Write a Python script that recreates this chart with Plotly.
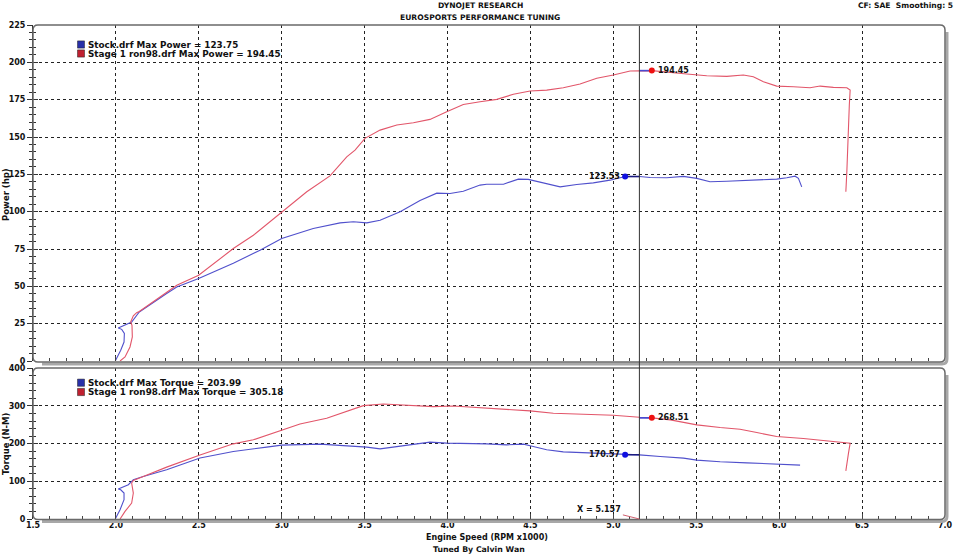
import plotly.graph_objects as go

# ---------------- data ----------------
stock_power_rpm = [1.996, 2.029, 2.049, 2.051, 2.035, 2.014, 2.095, 2.141, 2.306, 2.367, 2.499,
                   2.708, 2.869, 3.0, 3.19, 3.352, 3.432, 3.513, 3.593, 3.714, 3.834, 3.935,
                   4.015, 4.095, 4.196, 4.236, 4.337, 4.427, 4.487, 4.578, 4.679, 4.779, 4.879,
                   4.980, 5.071, 5.157, 5.222, 5.322, 5.422, 5.503, 5.583, 5.684, 5.784, 5.885,
                   5.985, 6.046, 6.096, 6.116, 6.136]
stock_power_hp = [0, 7.2, 12.7, 18.4, 21.2, 22.1, 26.1, 32.8, 45.2, 49.6, 55.2,
                  65.5, 74.2, 82.0, 88.7, 92.5, 93.2, 92.5, 94.3, 99.9, 107.5, 112.4,
                  112.2, 113.7, 117.8, 118.4, 118.4, 121.8, 121.6, 119.3, 116.6, 118.2, 119.3,
                  121.1, 123.53, 123.5, 122.9, 122.7, 123.6, 122.3, 120.0, 120.4, 120.9, 121.6,
                  121.8, 122.7, 123.75, 122.3, 116.6]

stage1_power_rpm = [2.025, 2.055, 2.085, 2.099, 2.097, 2.089, 2.105, 2.125, 2.141, 2.306, 2.367,
                    2.499, 2.708, 2.829, 3.0, 3.151, 3.291, 3.392, 3.442, 3.502, 3.593, 3.694,
                    3.794, 3.894, 3.995, 4.095, 4.196, 4.297, 4.397, 4.498, 4.598, 4.698, 4.799,
                    4.900, 5.0, 5.101, 5.232, 5.322, 5.443, 5.563, 5.684, 5.784, 5.844, 5.905,
                    5.985, 6.086, 6.186, 6.247, 6.327, 6.408, 6.428, 6.423, 6.417, 6.408, 6.402]
stage1_power_hp = [0, 2.7, 9.4, 16.1, 23.9, 26.1, 30.2, 32.4, 33.1, 45.8, 50.7,
                   57.4, 75.3, 84.2, 99.9, 113.3, 124.0, 136.7, 141.2, 149.1, 154.6, 158.0,
                   159.5, 161.8, 166.9, 171.8, 173.6, 175.2, 178.6, 180.8, 181.4, 183.0, 185.5,
                   189.3, 191.5, 194.2, 194.45, 193.3, 192.2, 191.0, 190.6, 191.5, 190.3, 187.0,
                   184.1, 183.6, 183.0, 184.1, 183.2, 183.0, 181.4, 171.4, 149.1, 126.7, 113.3]

stock_torque_rpm = [1.996, 2.025, 2.049, 2.049, 2.029, 2.014, 2.075, 2.105, 2.165, 2.306, 2.507,
                    2.708, 2.909, 3.0, 3.231, 3.311, 3.412, 3.513, 3.593, 3.673, 3.794, 3.894,
                    3.995, 4.115, 4.236, 4.357, 4.458, 4.498, 4.558, 4.598, 4.698, 4.840, 5.0,
                    5.071, 5.157, 5.282, 5.423, 5.503, 5.644, 5.805, 5.996, 6.126]
stock_torque_nm = [0, 24.6, 51.1, 68.9, 77.6, 79.5, 90.9, 104.1, 112.8, 130.6, 162.0,
                   179.1, 190.7, 196.0, 198.7, 196.8, 194.2, 190.7, 186.2, 190.7, 199.5, 203.99,
                   201.3, 201.3, 199.5, 196.8, 198.7, 194.2, 188.1, 183.6, 178.3, 175.6, 173.0,
                   170.57, 170.3, 165.8, 161.6, 156.3, 151.8, 149.1, 145.7, 143.0]

stage1_torque_rpm = [2.025, 2.055, 2.095, 2.105, 2.095, 2.105, 2.165, 2.306, 2.507, 2.708, 2.829,
                     3.0, 3.110, 3.271, 3.392, 3.492, 3.613, 3.714, 3.814, 3.914, 4.035, 4.156,
                     4.277, 4.398, 4.498, 4.638, 4.840, 5.0, 5.157, 5.232, 5.344, 5.503, 5.644,
                     5.764, 5.865, 5.985, 6.146, 6.287, 6.368, 6.428, 6.418, 6.402]
stage1_torque_nm = [0, 20.1, 42.4, 68.9, 95.4, 102.3, 112.8, 137.7, 170.0, 199.5, 210.1,
                    236.6, 252.0, 267.5, 285.0, 300.9, 305.18, 302.8, 300.1, 298.3, 300.1, 296.7,
                    291.4, 289.5, 286.9, 280.8, 277.1, 275.5, 270.2, 268.51, 263.0, 249.8, 242.7,
                    238.4, 229.4, 218.8, 213.5, 207.4, 204.8, 201.3, 174.8, 127.9]

cursor_x = 5.157
stock_marker_x = 5.071
stage1_marker_x = 5.232
power_marker_vals = [123.53, 194.45]    # stock, stage1
torque_marker_vals = [170.57, 268.51]   # stock, stage1

legend_power = ["Stock.drf Max Power = 123.75", "Stage 1 ron98.drf Max Power = 194.45"]
legend_torque = ["Stock.drf Max Torque = 203.99", "Stage 1 ron98.drf Max Torque = 305.18"]

x_ticks = [1.5, 2.0, 2.5, 3.0, 3.5, 4.0, 4.5, 5.0, 5.5, 6.0, 6.5, 7.0]
power_ticks = [0, 25, 50, 75, 100, 125, 150, 175, 200, 225]
torque_ticks = [0, 100, 200, 300, 400]

# ---------------- styling ----------------
W, H = 960, 554
ML, MR, MT, MB = 33, 15, 25, 35
PW, PH = W - ML - MR, H - MT - MB
FONT = "DejaVu Sans"
BLUE = "#5050cc"
RED = "#e2566a"


def px2x(px):
    return (px - ML) / PW


def py2y(py):
    return (H - MB - py) / PH


top_dom = [py2y(361), 1.0]
bot_dom = [0.0, py2y(368.3)]

fig = go.Figure()

# curves
fig.add_trace(go.Scatter(x=stock_power_rpm, y=stock_power_hp, mode="lines",
                         line=dict(color=BLUE, width=1.1), xaxis="x", yaxis="y", hoverinfo="skip"))
fig.add_trace(go.Scatter(x=stage1_power_rpm, y=stage1_power_hp, mode="lines",
                         line=dict(color=RED, width=1.1), xaxis="x", yaxis="y", hoverinfo="skip"))
fig.add_trace(go.Scatter(x=stock_torque_rpm, y=stock_torque_nm, mode="lines",
                         line=dict(color=BLUE, width=1.1), xaxis="x2", yaxis="y2", hoverinfo="skip"))
fig.add_trace(go.Scatter(x=stage1_torque_rpm, y=stage1_torque_nm, mode="lines",
                         line=dict(color=RED, width=1.1), xaxis="x2", yaxis="y2", hoverinfo="skip"))

# cursor connectors and markers
for xa, ya, vals in (("x", "y", power_marker_vals), ("x2", "y2", torque_marker_vals)):
    fig.add_trace(go.Scatter(x=[stock_marker_x, cursor_x], y=[vals[0], vals[0]], mode="lines",
                             line=dict(color="#1a1a80", width=1.6), xaxis=xa, yaxis=ya, hoverinfo="skip"))
    fig.add_trace(go.Scatter(x=[cursor_x, stage1_marker_x], y=[vals[1], vals[1]], mode="lines",
                             line=dict(color="#4a4ad0", width=1.6), xaxis=xa, yaxis=ya, hoverinfo="skip"))
    fig.add_trace(go.Scatter(x=[stock_marker_x, stage1_marker_x], y=vals, mode="markers",
                             marker=dict(color=["#1010e0", "#ee1010"], size=6),
                             xaxis=xa, yaxis=ya, hoverinfo="skip"))

# dummy traces for the overlay tick axes
fig.add_trace(go.Scatter(x=[None], y=[None], xaxis="x", yaxis="y3", showlegend=False, hoverinfo="skip"))
fig.add_trace(go.Scatter(x=[None], y=[None], xaxis="x2", yaxis="y4", showlegend=False, hoverinfo="skip"))

tickfont = dict(family=FONT, size=8, color="#111", weight="bold")


def xaxis_common(labels, anchor):
    return dict(domain=[0, 1], range=[1.5, 7.0], anchor=anchor, tickvals=x_ticks,
                ticktext=[f"{v:.1f}" for v in x_ticks], showticklabels=labels,
                ticks="inside", ticklen=5, tickcolor="#444", tickwidth=1,
                minor=dict(dtick=0.1, tick0=1.5, ticks="inside", ticklen=3, tickcolor="#444", showgrid=False),
                showgrid=True, gridcolor="#222", griddash="dot", gridwidth=1,
                zeroline=False, showline=False, tickfont=tickfont, fixedrange=True,
                automargin=False)


def yaxis_common(dom, rng, ticks, minor_dt, anchor):
    return dict(domain=dom, range=rng, anchor=anchor, tickvals=ticks, ticks="outside", ticklen=5,
                tickcolor="#333", minor=dict(dtick=minor_dt, tick0=0, ticks="outside", ticklen=3,
                                             tickcolor="#333", showgrid=False),
                showgrid=True, gridcolor="#222", griddash="dot", gridwidth=1, zeroline=False,
                showline=True, linecolor="#333", linewidth=1, tickfont=tickfont,
                ticklabelstandoff=0, fixedrange=True, automargin=False)


def yoverlay(over, rng, ticks, minor_dt):
    return dict(overlaying=over, range=rng, side="left", tickvals=ticks, ticks="inside", ticklen=5,
                tickcolor="#333", minor=dict(dtick=minor_dt, tick0=0, ticks="inside", ticklen=3,
                                             tickcolor="#333", showgrid=False),
                showticklabels=False, showgrid=False, zeroline=False, showline=False,
                fixedrange=True, automargin=False)


fig.update_layout(
    width=W, height=H, margin=dict(l=ML, r=MR, t=MT, b=MB, autoexpand=False),
    paper_bgcolor="white", plot_bgcolor="white", showlegend=False,
    xaxis=xaxis_common(False, "y"),
    xaxis2=xaxis_common(True, "y2"),
    yaxis=yaxis_common(top_dom, [0, 225], power_ticks, 5, "x"),
    yaxis2=yaxis_common(bot_dom, [0, 400], torque_ticks, 20, "x2"),
    yaxis3=yoverlay("y", [0, 225], power_ticks, 5),
    yaxis4=yoverlay("y2", [0, 400], torque_ticks, 20),
)


# ---------------- panel frames ----------------
def rrect_path(x0, y0, x1, y1, r):
    pts = [("M", x0 + r, y0), ("L", x1 - r, y0), ("Q", x1, y0, x1, y0 + r), ("L", x1, y1 - r),
           ("Q", x1, y1, x1 - r, y1), ("L", x0 + r, y1), ("Q", x0, y1, x0, y1 - r),
           ("L", x0, y0 + r), ("Q", x0, y0, x0 + r, y0)]
    out = []
    for p in pts:
        s = p[0]
        coords = p[1:]
        for i in range(0, len(coords), 2):
            s += f" {px2x(coords[i]):.5f},{py2y(coords[i + 1]):.5f}"
        out.append(s)
    return " ".join(out) + " Z"


def shadow_path(x0, y0, x1, y1, r):
    return (f"M {px2x(x1):.5f},{py2y(y0 + r + 2):.5f} L {px2x(x1):.5f},{py2y(y1 - r):.5f} "
            f"Q {px2x(x1):.5f},{py2y(y1):.5f} {px2x(x1 - r):.5f},{py2y(y1):.5f} "
            f"L {px2x(x0 + r + 2):.5f},{py2y(y1):.5f}")


shapes = []
for (x0, y0, x1, y1) in ((33, 25, 945, 362), (33, 368, 945, 519.5)):
    shapes.append(dict(type="path", xref="paper", yref="paper", path=shadow_path(x0 + 2, y0, x1 + 2, y1 + 2, 5),
                       line=dict(color="#a8a8a8", width=3), layer="above"))
    shapes.append(dict(type="path", xref="paper", yref="paper", path=rrect_path(x0, y0, x1, y1, 5),
                       line=dict(color="#6a6a6a", width=1.5), layer="above"))

# cursor line
shapes.append(dict(type="line", xref="x", yref="paper", x0=cursor_x, x1=cursor_x,
                   y0=py2y(519), y1=py2y(26), line=dict(color="#333", width=1), layer="above"))

# legend squares
for (ly, col) in ((44.5, "#2830a8"), (53.5, "#c02030"), (382.7, "#2830a8"), (392, "#c02030")):
    shapes.append(dict(type="rect", xref="paper", yref="paper", x0=px2x(77.5), x1=px2x(84.5),
                       y0=py2y(ly + 3.6), y1=py2y(ly - 3.6), fillcolor=col,
                       line=dict(color="#202020", width=0.5)))

fig.update_layout(shapes=shapes)

# ---------------- annotations ----------------
ann = []


def txt(s, px, py, xanchor="center", size=8.5, angle=0):
    ann.append(dict(text=f"<b>{s}</b>", xref="paper", yref="paper", x=px2x(px), y=py2y(py),
                    xanchor=xanchor, yanchor="middle", showarrow=False, textangle=angle,
                    font=dict(family=FONT, size=size, color="#111")))


txt("DYNOJET RESEARCH", 480, 6, size=7.6)
txt("EUROSPORTS PERFORMANCE TUNING", 480, 17, size=7.6)
txt("CF: SAE  Smoothing: 5", 955, 6, xanchor="right", size=7.6)
txt("Engine Speed (RPM x1000)", 487, 537, size=8)
txt("Tuned By Calvin Wan", 479, 549.5, size=7.8)
txt("Power (hp)", 6, 195, size=8.5, angle=-90)
txt("Torque (N-M)", 6, 444, size=8.5, angle=-90)

for s, py in zip(legend_power, (44.5, 53.5)):
    txt(s, 85.5, py, xanchor="left", size=8.8)
for s, py in zip(legend_torque, (382.7, 392)):
    txt(s, 85.5, py, xanchor="left", size=8.8)

for xa, ya, vals in (("x", "y", power_marker_vals), ("x2", "y2", torque_marker_vals)):
    ann.append(dict(text=f"<b>{vals[0]:.2f}</b>", xref=xa, yref=ya, x=stock_marker_x, y=vals[0],
                    xanchor="right", yanchor="middle", xshift=-3, showarrow=False,
                    font=dict(family=FONT, size=8, color="#111")))
    ann.append(dict(text=f"<b>{vals[1]:.2f}</b>", xref=xa, yref=ya, x=stage1_marker_x, y=vals[1],
                    xanchor="left", yanchor="middle", xshift=4, showarrow=False,
                    font=dict(family=FONT, size=8, color="#111")))

ann.append(dict(text=f"<b>X = {cursor_x:.3f}</b>", xref="x2", yref="y2", x=cursor_x, y=0,
                ax=-40, ay=-10, showarrow=True, arrowhead=0, arrowwidth=1, arrowcolor="#d06070",
                font=dict(family=FONT, size=8, color="#111")))

fig.update_layout(annotations=ann)

fig.write_html("out.html", config={"displayModeBar": False},
               post_script="document.body.style.margin='0';document.body.style.overflow='hidden';")
